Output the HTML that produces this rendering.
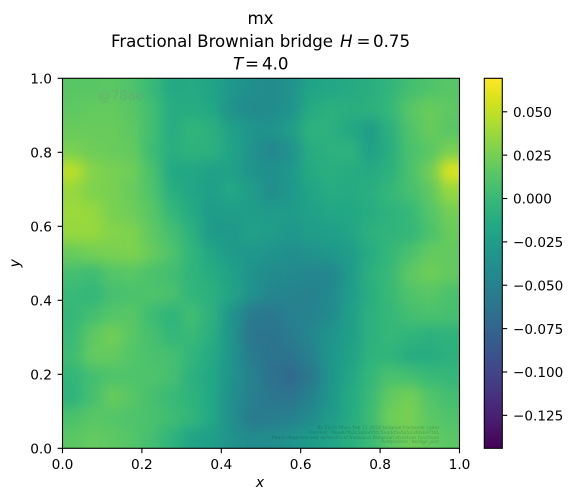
<!DOCTYPE html>
<html>
<head>
<meta charset="utf-8">
<style>
html,body{margin:0;padding:0;background:#fff;width:573px;height:501px;overflow:hidden}
svg{display:block}
text{font-family:"DejaVu Sans",sans-serif;fill:#000}
</style>
</head>
<body>
<svg id="fig" xmlns="http://www.w3.org/2000/svg" width="573" height="501" viewBox="0 0 573 501">
  <defs>
    <clipPath id="plot-clip"><rect x="62.5" y="78.3" width="397" height="370"/></clipPath>
    <filter id="smooth" filterUnits="userSpaceOnUse" x="0" y="0" width="573" height="501" color-interpolation-filters="sRGB">
      <feGaussianBlur stdDeviation="6.5"/>
    </filter>
    <linearGradient id="cbar-gradient" x1="0" y1="1" x2="0" y2="0"></linearGradient>
  </defs>
  <g clip-path="url(#plot-clip)">
    <g id="cells" filter="url(#smooth)"></g>
    <text x="98" y="100" font-size="13" style="fill:#808080;fill-opacity:.3">@78ae</text>
    <g font-size="4.6" style="fill-opacity:.22" text-anchor="end">
      <text x="439" y="429">By Eiichi Ohira Feb 11 2024 (original fractional code)</text>
      <text x="439" y="434">Commit: 78aeb7fb2c5b0a6ff4c5e4dd5e5a5d3fd1b37f41</text>
      <text x="439" y="439">Phase diagrams and dynamics of fractional Brownian structure functions</text>
      <text x="439" y="443">Postprocess: fbridge_plot</text>
    </g>
  </g>
  <g id="x-axis"></g>
  <g id="y-axis"></g>
  <rect x="62.5" y="78.3" width="397" height="370" fill="none" stroke="#000" stroke-width="1.1"/>
  <text x="260.5" y="24" font-size="16.67" text-anchor="middle">mx</text>
  <text y="47" font-size="16.67"><tspan x="111" textLength="222" lengthAdjust="spacing">Fractional Brownian bridge</tspan><tspan x="340" font-style="italic">H</tspan><tspan x="356.5">=</tspan><tspan x="373">0.75</tspan></text>
  <text y="69.5" font-size="16.67"><tspan x="233" font-style="italic">T</tspan><tspan x="245">=</tspan><tspan x="262">4.0</tspan></text>
  <text x="260" y="487" font-size="13.89" font-style="italic" text-anchor="middle">x</text>
  <text transform="translate(19.5,263.3) rotate(-90)" font-size="13.89" font-style="italic" text-anchor="middle">y</text>
  <rect x="484.3" y="78.3" width="18" height="370" fill="url(#cbar-gradient)"/>
  <rect x="484.3" y="78.3" width="18" height="370" fill="none" stroke="#000" stroke-width="1.1"/>
  <g id="cbar-axis"></g>
</svg>
<script>
// Field values, thousandths of a unit, top row (y = 1) to bottom row (y = 0)
const fieldRow00 = [14,14,15,10,0,-15,-14,-20,-30,-38,-42,-36,-20,-18,-14,-10,-4,5,10,14];
const fieldRow01 = [16,18,18,14,4,-12,-12,-16,-36,-42,-42,-34,-14,-8,-10,-8,-2,14,20,16];
const fieldRow02 = [20,20,20,16,4,-12,-4,-8,-22,-32,-36,-26,-6,-8,-16,-26,-8,10,20,14];
const fieldRow03 = [26,22,20,18,2,-10,-6,-8,-20,-34,-46,-36,-12,-8,-6,-24,-10,8,14,26];
const fieldRow04 = [48,30,26,22,8,-16,-18,-22,-22,-34,-38,-30,-14,-10,-12,-14,-8,8,22,58];
const fieldRow05 = [36,28,26,20,10,-10,-18,-24,-16,-26,-40,-30,-20,-12,-14,-10,-2,6,16,36];
const fieldRow06 = [38,36,26,22,14,-2,-14,-28,-26,-26,-28,-28,-22,-18,-16,-12,-6,-2,12,24];
const fieldRow07 = [36,36,30,28,16,6,-8,-28,-30,-22,-26,-30,-26,-24,-20,-8,-5,-3,8,20];
const fieldRow08 = [20,24,26,28,20,10,-4,-18,-28,-30,-34,-38,-36,-30,-26,-12,-2,8,18,18];
const fieldRow09 = [5,3,12,14,8,4,-5,-12,-22,-35,-42,-44,-46,-46,-28,-8,0,16,22,18];
const fieldRow10 = [0,-4,6,8,10,8,-4,-8,-20,-36,-46,-48,-50,-44,-26,-10,0,10,14,8];
const fieldRow11 = [-2,5,12,14,2,-6,4,-8,-34,-56,-60,-52,-50,-42,-24,-8,-2,5,8,6];
const fieldRow12 = [0,16,24,14,6,-3,0,-10,-34,-60,-62,-56,-46,-34,-24,-8,-2,-5,-8,-6];
const fieldRow13 = [3,18,18,12,8,6,-4,-14,-34,-56,-64,-62,-52,-32,-22,-6,-5,-12,-12,-8];
const fieldRow14 = [-4,5,10,10,10,6,-8,-16,-36,-50,-64,-72,-60,-34,-18,-2,8,5,0,-2];
const fieldRow15 = [-6,6,20,14,6,0,-6,-16,-38,-52,-60,-62,-50,-32,-14,0,18,24,12,5];
const fieldRow16 = [8,14,12,10,8,3,-4,-16,-38,-56,-56,-52,-42,-28,-14,2,22,26,15,10];
const fieldRow17 = [15,18,16,12,5,-6,-20,-24,-36,-42,-40,-35,-28,-20,-10,0,15,22,18,15];
const fieldRows = [fieldRow00,fieldRow01,fieldRow02,fieldRow03,fieldRow04,fieldRow05,fieldRow06,fieldRow07,fieldRow08,fieldRow09,fieldRow10,fieldRow11,fieldRow12,fieldRow13,fieldRow14,fieldRow15,fieldRow16,fieldRow17];

const xTickLabels = ["0.0","0.2","0.4","0.6","0.8","1.0"];
const yTickLabels = ["0.0","0.2","0.4","0.6","0.8","1.0"];
const colorbarTickLabels = ["0.050","0.025","0.000","\u22120.025","\u22120.050","\u22120.075","\u22120.100","\u22120.125"];
const colorbarTickValues = [0.05,0.025,0,-0.025,-0.05,-0.075,-0.1,-0.125];
const colorMin = -0.144;
const colorMax = 0.0693;
const viridisStops = ["#440154","#481a6c","#472f7d","#414487","#39568c","#31688e","#2a788e","#23888e","#1f988b","#22a884","#35b779","#54c568","#7ad151","#a5db36","#d2e21b","#fde725"];

const NS = "http://www.w3.org/2000/svg";
const plotLeft = 62.5, plotTop = 78.3, plotWidth = 397, plotHeight = 370;
const barLeft = 484.3, barWidth = 18;

function xScale(v){ return plotLeft + v * plotWidth; }
function yScale(v){ return plotTop + (1 - v) * plotHeight; }
function barScale(v){ return plotTop + (colorMax - v) / (colorMax - colorMin) * plotHeight; }

function hexToRgb(h){ return [1,3,5].map(i => parseInt(h.substr(i,2),16)); }
function colorFor(v){
  let t = (v - colorMin) / (colorMax - colorMin);
  t = Math.max(0, Math.min(1, t)) * (viridisStops.length - 1);
  const i = Math.min(Math.floor(t), viridisStops.length - 2);
  const f = t - i;
  const a = hexToRgb(viridisStops[i]), b = hexToRgb(viridisStops[i+1]);
  const c = a.map((x,k) => Math.round(x + (b[k]-x)*f));
  return "rgb(" + c.join(",") + ")";
}
function make(tag, attrs, parent){
  const el = document.createElementNS(NS, tag);
  for (const k in attrs) el.setAttribute(k, attrs[k]);
  parent.appendChild(el);
  return el;
}

// heatmap cells, outermost cells bleed past the frame so the smoothing keeps edges full
const cellsGroup = document.getElementById("cells");
const rowCount = fieldRows.length;
fieldRows.forEach((row, r) => {
  const colCount = row.length;
  row.forEach((val, c) => {
    let x0 = xScale(c / colCount), x1 = xScale((c + 1) / colCount);
    let y0 = yScale(1 - r / rowCount), y1 = yScale(1 - (r + 1) / rowCount);
    if (c === 0) x0 -= 40;
    if (c === colCount - 1) x1 += 40;
    if (r === 0) y0 -= 40;
    if (r === rowCount - 1) y1 += 40;
    const cell = make("rect", {x: x0, y: y0, width: x1 - x0 + 0.5, height: y1 - y0 + 0.5, fill: colorFor(val / 1000)}, cellsGroup);
    
    
  });
});

// x axis
const xAxis = document.getElementById("x-axis");
xTickLabels.forEach((label) => {
  const x = xScale(parseFloat(label));
  const tick = make("line", {x1: x, x2: x, y1: 448.3, y2: 453.2, stroke: "#000", "stroke-width": 1.1}, xAxis);
  
  
  const text = make("text", {x: x, y: 469, "font-size": 13.7, "text-anchor": "middle"}, xAxis);
  text.textContent = label;
  
  
});

// y axis
const yAxis = document.getElementById("y-axis");
yTickLabels.forEach((label) => {
  const y = yScale(parseFloat(label));
  const tick = make("line", {x1: 57.6, x2: 62.5, y1: y, y2: y, stroke: "#000", "stroke-width": 1.1}, yAxis);
  
  
  const text = make("text", {x: 52, y: y + 5.2, "font-size": 13.7, "text-anchor": "end"}, yAxis);
  text.textContent = label;
  
  
});

// colorbar gradient
const gradient = document.getElementById("cbar-gradient");
for (let i = 0; i <= 64; i++) {
  const v = colorMin + (colorMax - colorMin) * i / 64;
  make("stop", {offset: (i / 64), "stop-color": colorFor(v)}, gradient);
}

// colorbar ticks
const cbarAxis = document.getElementById("cbar-axis");
colorbarTickValues.forEach((val, i) => {
  const y = barScale(val);
  const tick = make("line", {x1: barLeft + barWidth, x2: barLeft + barWidth + 4.9, y1: y, y2: y, stroke: "#000", "stroke-width": 1.1}, cbarAxis);
  
  
  const text = make("text", {x: 513, y: y + 5.2, "font-size": 13.6}, cbarAxis);
  text.textContent = colorbarTickLabels[i];
  
  
});
</script>
</body>
</html>
